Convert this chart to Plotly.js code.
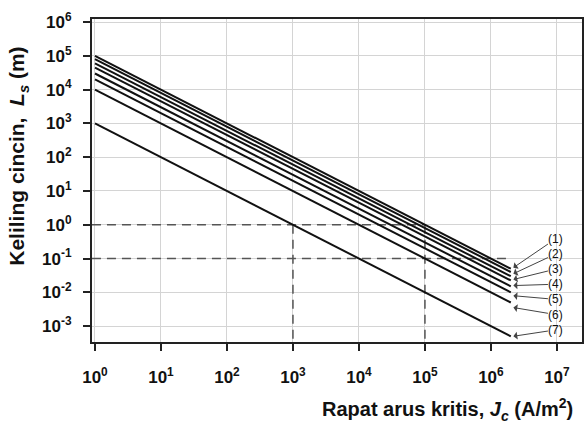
<!DOCTYPE html>
<html>
<head>
<meta charset="utf-8">
<script src="https://cdn.plot.ly/plotly-3.0.1.min.js"></script>
<style>html,body{margin:0;padding:0;background:#fff;}#chart{width:588px;height:425px;}</style>
</head>
<body>
<div id="chart"></div>
<script>
// Data
const jcStart = 1;          // A/m^2, left end of every line
const jcEnd = 2e6;          // A/m^2, right end of every line
const lsStart = [1e5, 8e4, 6e4, 4.5e4, 3e4, 2e4, 1e4, 1e3];          // L_s at Jc = 1
const lsEnd = [5e-2, 4e-2, 3e-2, 2.25e-2, 1.5e-2, 1e-2, 5e-3, 5e-4]; // L_s at Jc = 2e6
const curveLabels = ['(1)', '(2)', '(3)', '(4)', '(5)', '(6)', '(7)'];
// reference (dashed) guide lines
const guideX = [[0.9, 1e5], [0.9, 2e6], [1e3, 1e3], [1e5, 1e5]];
const guideY = [[1, 1], [0.1, 0.1], [1, 3.4e-4], [1, 3.4e-4]];
// axis ticks
const xTickVals = [1, 1e1, 1e2, 1e3, 1e4, 1e5, 1e6, 1e7];
const xTickText = ['0', '1', '2', '3', '4', '5', '6', '7'].map(e => '<b>10<sup>' + e + '</sup></b>');
const yTickVals = [1e-3, 1e-2, 1e-1, 1, 1e1, 1e2, 1e3, 1e4, 1e5, 1e6];
const yTickText = ['-3', '-2', '-1', '0', '1', '2', '3', '4', '5', '6'].map(e => '<b>10<sup>' + e + '</sup></b>');

const traces = [];
guideX.forEach((gx, i) => {
  traces.push({x: gx, y: guideY[i], mode: 'lines', type: 'scatter', hoverinfo: 'skip',
    line: {color: '#555', width: 1.5, dash: '9px,6px'}});
});
lsStart.forEach((v, i) => {
  traces.push({x: [jcStart, jcEnd], y: [v, lsEnd[i]], mode: 'lines', type: 'scatter',
    line: {color: '#111', width: 2}});
});

// label placement (styling): tail (text) and arrow tips, in log10 units
const labelPos = {tx: 6.985, ty: [-0.41, -0.86, -1.31, -1.76, -2.21, -2.66, -3.11],
  hx: 6.34, hy: [-1.27, -1.45, -1.62, -1.80, -2.10, -2.45, -3.30]};
const annotations = curveLabels.map((t, i) => ({
  text: t, x: labelPos.hx, y: labelPos.hy[i], xref: 'x', yref: 'y',
  ax: labelPos.tx, ay: labelPos.ty[i], axref: 'x', ayref: 'y',
  showarrow: true, arrowhead: 1, arrowsize: 1.3, arrowwidth: 1, arrowcolor: '#444',
  borderpad: 0,
  font: {family: 'Liberation Sans, Arial, sans-serif', size: 12, color: '#111'}
}));
annotations.push({
  text: '<b>Rapat arus kritis, <i>J<sub>c</sub></i> (A/m<sup>2</sup>)</b>',
  xref: 'paper', yref: 'paper', x: 0.985, y: -0.208, xanchor: 'right', yanchor: 'middle',
  showarrow: false, font: {family: 'Liberation Sans, Arial, sans-serif', size: 20, color: '#111'}
});
annotations.push({
  text: '<b>Keliling cincin,  <i>L<sub>s</sub></i> (m)</b>', textangle: -90,
  xref: 'paper', yref: 'paper', x: -0.15, y: 0.575, xanchor: 'center', yanchor: 'middle',
  showarrow: false, font: {family: 'Liberation Sans, Arial, sans-serif', size: 21, color: '#111'}
});

const axisCommon = {
  type: 'log', showgrid: true, gridcolor: '#d4d4d4', gridwidth: 1, zeroline: false,
  showline: true, linecolor: '#222', linewidth: 2, mirror: true,
  ticks: 'outside', ticklen: 7, tickwidth: 2, tickcolor: '#222', tickmode: 'array',
  tickfont: {family: 'Liberation Sans, Arial, sans-serif', size: 17, color: '#111'}
};

const layout = {
  width: 588, height: 425,
  margin: {l: 92, r: 6, t: 19, b: 83},
  paper_bgcolor: '#fff', plot_bgcolor: '#fff', showlegend: false,
  xaxis: Object.assign({}, axisCommon, {range: [-0.045, 7.38], tickvals: xTickVals, ticktext: xTickText, ticklabelstandoff: 12}),
  yaxis: Object.assign({}, axisCommon, {range: [-3.47, 6.09], tickvals: yTickVals, ticktext: yTickText, ticklabelstandoff: 8}),
  annotations: annotations
};

Plotly.newPlot('chart', traces, layout, {displayModeBar: false, staticPlot: true});
</script>
</body>
</html>
